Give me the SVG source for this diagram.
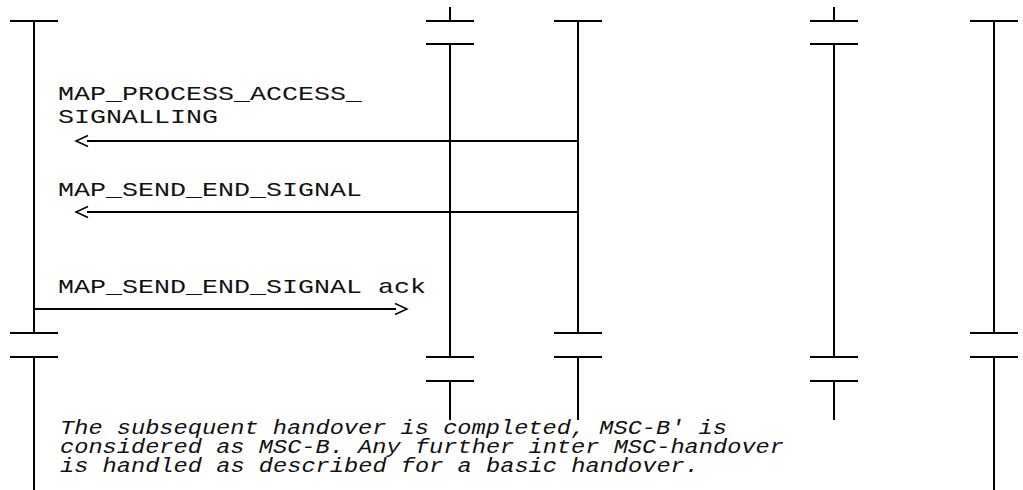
<svg xmlns="http://www.w3.org/2000/svg" width="1023" height="490" viewBox="0 0 1023 490">
<style>
.ln{stroke:#000;stroke-width:2;fill:none;stroke-linecap:butt}
.ar{stroke:#000;stroke-width:1.5;fill:none}
.lbl{font-family:"Liberation Mono","DejaVu Sans Mono",monospace;font-size:21px;fill:#111}
.note{font-family:"Liberation Mono","DejaVu Sans Mono",monospace;font-size:20px;font-style:italic;fill:#111}
</style>
<rect width="1023" height="490" fill="#fff"/>
<g id="lifeline1">
<path class="ln" d="M10 21H58M34 21V333M10 333H58M10 357H58M34 357V490"/>
</g>
<g id="lifeline2">
<path class="ln" d="M450 7V21M426 21H474M426 44H474M450 44V357M426 357H474M426 381H474M450 381V420"/>
</g>
<g id="lifeline3">
<path class="ln" d="M554 21H602M578 21V333M554 333H602M554 357H602M578 357V420"/>
</g>
<g id="lifeline4">
<path class="ln" d="M834 7V21M810 21H858M810 44H858M834 44V357M810 357H858M810 381H858M834 381V420"/>
</g>
<g id="lifeline5">
<path class="ln" d="M970 21H1018M994 21V333M970 333H1018M970 357H1018M994 357V490"/>
</g>
<g id="connectors">
<g id="msg1">
<path class="ln" d="M87 141H578"/>
<path class="ar" d="M88 135.5L76 141L88 146.5"/>
<text class="lbl" x="58" y="100" textLength="304" lengthAdjust="spacingAndGlyphs">MAP_PROCESS_ACCESS_</text>
<text class="lbl" x="58" y="123" textLength="160" lengthAdjust="spacingAndGlyphs">SIGNALLING</text>
</g>
<g id="msg2">
<path class="ln" d="M87 212H578"/>
<path class="ar" d="M88 206.5L76 212L88 217.5"/>
<text class="lbl" x="58" y="196" textLength="304" lengthAdjust="spacingAndGlyphs">MAP_SEND_END_SIGNAL</text>
</g>
<g id="msg3">
<path class="ln" d="M34 309H396"/>
<path class="ar" d="M395 303.5L407 309L395 314.5"/>
<text class="lbl" x="58" y="293" textLength="368" lengthAdjust="spacingAndGlyphs">MAP_SEND_END_SIGNAL ack</text>
</g>
</g>
<g id="note">
<text class="note" x="60" y="434" textLength="667" lengthAdjust="spacingAndGlyphs">The subsequent handover is completed, MSC-B' is</text>
<text class="note" x="60" y="453" textLength="724" lengthAdjust="spacingAndGlyphs">considered as MSC-B. Any further inter MSC-handover</text>
<text class="note" x="60" y="472" textLength="639" lengthAdjust="spacingAndGlyphs">is handled as described for a basic handover.</text>
</g>
</svg>
